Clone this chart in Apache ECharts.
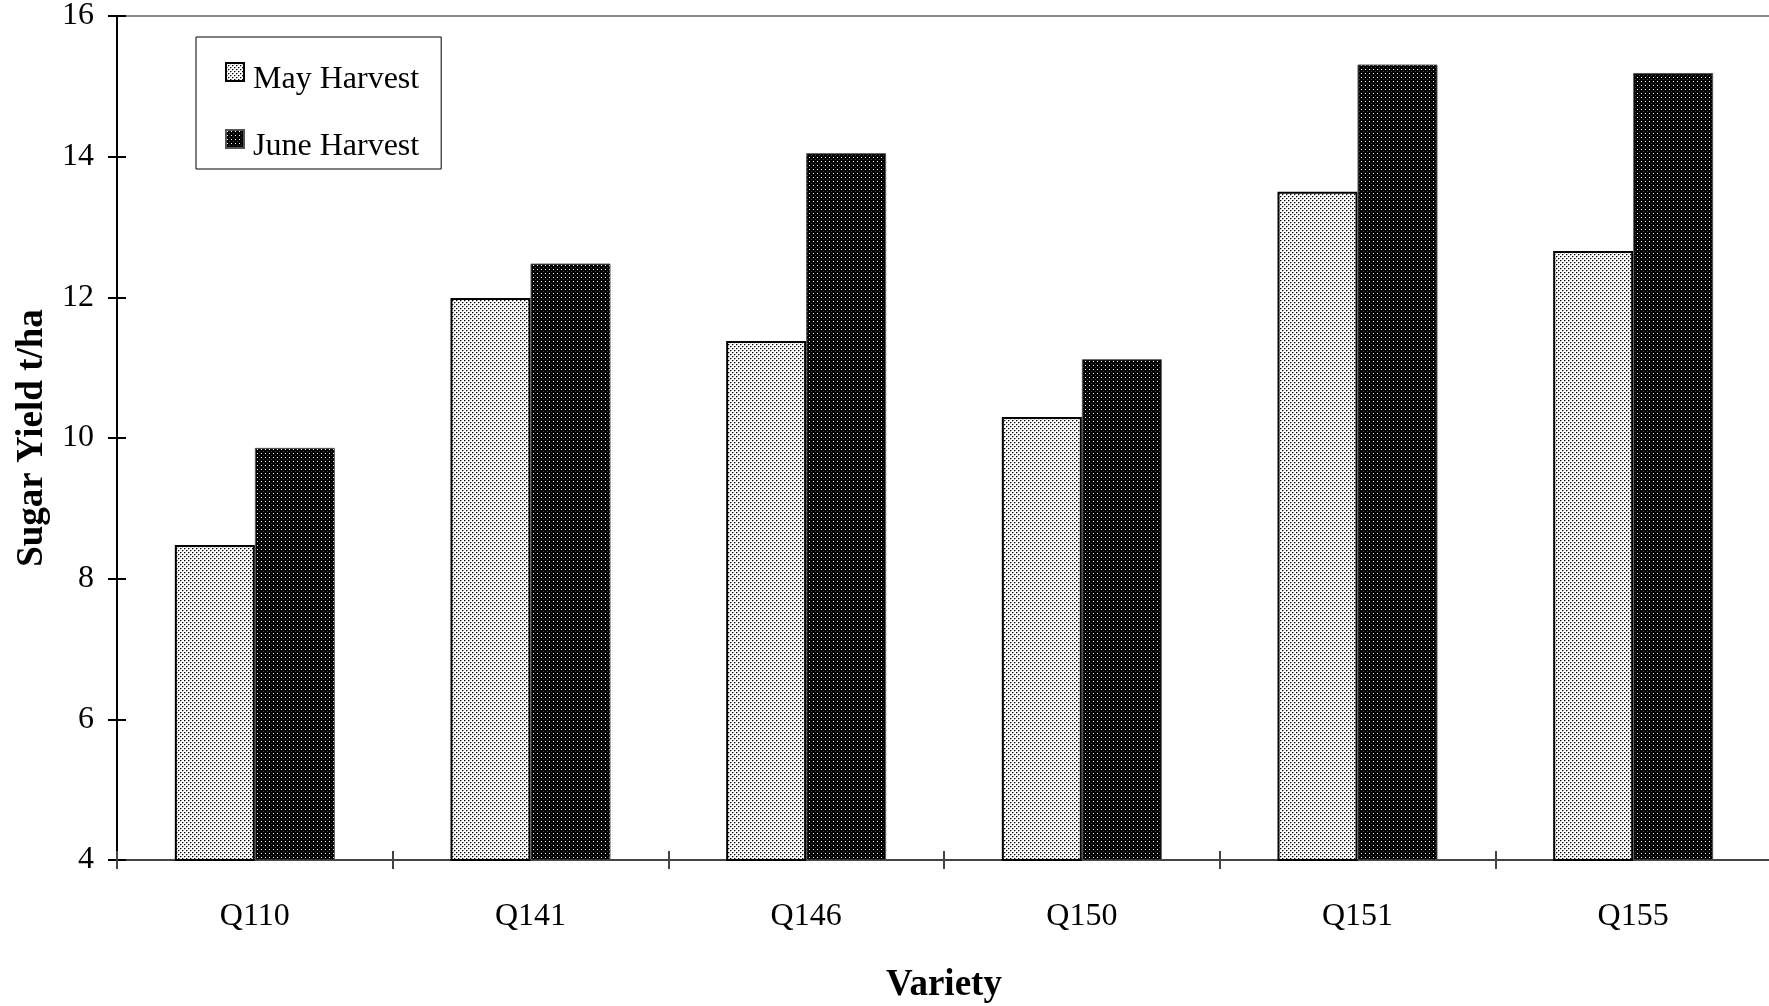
<!DOCTYPE html>
<html>
<head>
<meta charset="utf-8">
<script src="https://cdn.jsdelivr.net/npm/echarts@6/dist/echarts.min.js"></script>
<style>
html,body{margin:0;padding:0;background:#fff;}
#chart{width:1769px;height:1006px;}
</style>
</head>
<body>
<div id="chart"></div>
<script>
const categories = ['Q110', 'Q141', 'Q146', 'Q150', 'Q151', 'Q155'];
const mayHarvest = [8.48, 11.99, 11.38, 10.30, 13.50, 12.66];
const juneHarvest = [9.86, 12.48, 14.05, 11.12, 15.31, 15.19];
const seriesNames = ['May Harvest', 'June Harvest'];
const yTicks = {min: 4, max: 16, interval: 2};

const FONT = "'Liberation Serif', 'Times New Roman', serif";

function makePattern(bg, pts) {
  const c = document.createElement('canvas');
  c.width = 4; c.height = 4;
  const ctx = c.getContext('2d');
  ctx.fillStyle = bg; ctx.fillRect(0, 0, 4, 4);
  pts.forEach(p => { ctx.fillStyle = p[2]; ctx.fillRect(p[0], p[1], 1, 1); });
  return c;
}
const mayPat = makePattern('#ffffff', [[0,0,'#000'],[2,2,'#000'],[1,0,'#999'],[3,2,'#999'],[0,1,'#bbb'],[2,3,'#bbb']]);
const junePat = makePattern('#000000', [[1,1,'#ffffff'],[3,3,'#444444']]);

const chart = echarts.init(document.getElementById('chart'), null, {renderer: 'canvas'});
const axisBase = {min: yTicks.min, max: yTicks.max, interval: yTicks.interval, type: 'value'};
chart.setOption({
  animation: false,
  backgroundColor: '#fff',
  grid: {left: 117, top: 16, right: -2, bottom: 146, show: true, borderColor: '#888', borderWidth: 2,
         backgroundColor: 'transparent', containLabel: false, outerBoundsMode: 'none'},
  legend: {
    orient: 'vertical', left: 196, top: 37,
    padding: [11, 22, 6, 29],
    itemWidth: 18, itemHeight: 18, itemGap: 19,
    borderColor: '#000', borderWidth: 1,
    icon: 'rect',
    formatter: '{t|{name}}',
    textStyle: {
      fontFamily: FONT, fontSize: 32, color: '#000',
      rich: {t: {fontFamily: FONT, fontSize: 32, color: '#000', lineHeight: 32, padding: [16, 0, 0, 4]}}
    },
    data: seriesNames
  },
  xAxis: [{
    type: 'category', data: categories,
    axisLine: {lineStyle: {color: '#444', width: 2}},
    axisTick: {show: true, length: 9, lineStyle: {color: '#444', width: 2}},
    axisLabel: {fontFamily: FONT, fontSize: 32, color: '#000', margin: 41},
    name: 'Variety', nameLocation: 'middle', nameGap: 107,
    nameTextStyle: {fontFamily: FONT, fontSize: 37, fontWeight: 'bold', color: '#000'}
  }, {
    type: 'category', data: categories, position: 'bottom',
    axisLine: {show: false},
    axisTick: {show: true, inside: true, length: 9, lineStyle: {color: '#444', width: 2}},
    axisLabel: {show: false}
  }],
  yAxis: [Object.assign({}, axisBase, {
    axisLine: {show: true, lineStyle: {color: '#000', width: 2}},
    axisTick: {show: true, length: 9, lineStyle: {color: '#000', width: 2}},
    axisLabel: {fontFamily: FONT, fontSize: 32, color: '#000', margin: 23},
    splitLine: {show: false},
    name: 'Sugar Yield t/ha', nameLocation: 'middle', nameGap: 62,
    nameTextStyle: {fontFamily: FONT, fontSize: 37, fontWeight: 'bold', color: '#000'}
  }), Object.assign({}, axisBase, {
    position: 'left',
    axisLine: {show: false},
    axisTick: {show: true, inside: true, length: 9, lineStyle: {color: '#000', width: 2}},
    axisLabel: {show: false},
    splitLine: {show: false}
  })],
  series: [{
    name: seriesNames[0], type: 'bar', data: mayHarvest, barWidth: 80, barGap: '0%',
    itemStyle: {color: {image: mayPat, repeat: 'repeat'}, borderColor: '#000', borderWidth: 2}
  }, {
    name: seriesNames[1], type: 'bar', data: juneHarvest, barWidth: 80, barGap: '0%',
    itemStyle: {color: {image: junePat, repeat: 'repeat'}, borderColor: '#555', borderWidth: 1}
  }]
});
</script>
</body>
</html>
